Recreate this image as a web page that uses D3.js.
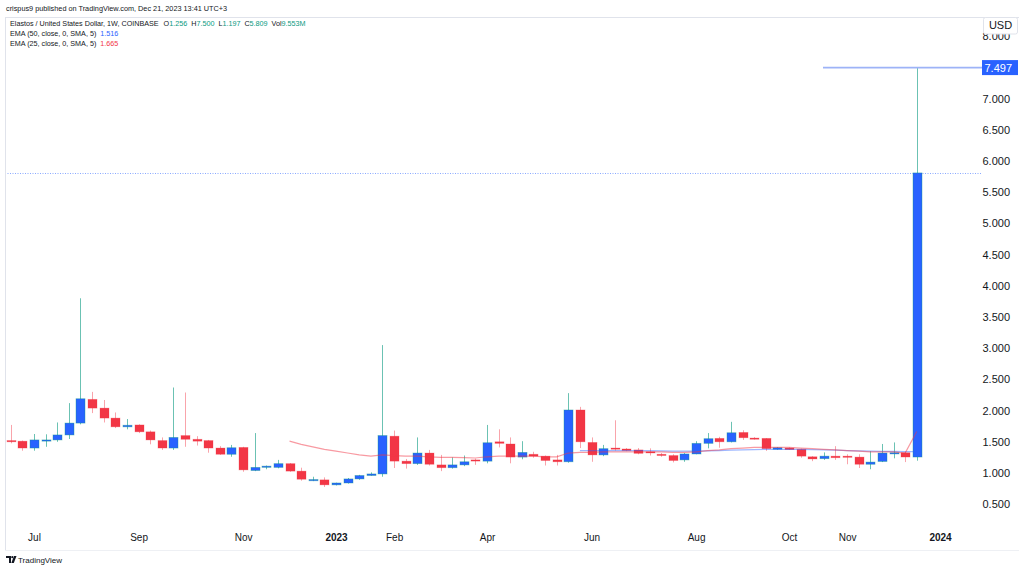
<!DOCTYPE html>
<html><head><meta charset="utf-8">
<script src="https://cdn.jsdelivr.net/npm/d3@7"></script>
<style>body{margin:0;background:#fff}svg{display:block;font-family:"Liberation Sans",Arial,sans-serif}</style>
</head><body><svg id="c" width="1024" height="570"></svg>
<script>
// ---------- DATA ----------
const firstWeek = "2022-06-20";
const opens  = [1.52,1.51,1.40,1.52,1.53,1.61,1.80,2.18,2.04,1.88,1.74,1.77,1.66,1.52,1.40,1.60,1.54,1.52,1.40,1.30,
                1.41,1.04,1.10,1.09,1.15,1.03,0.885,0.89,0.81,0.84,0.905,0.96,0.985,1.59,1.19,1.15,1.32,1.13,1.085,1.13,
                1.21,1.19,1.50,1.465,1.255,1.30,1.27,1.21,1.18,2.01,1.49,1.29,1.40,1.385,1.37,1.34,1.30,1.28,1.21,1.305,
                1.475,1.555,1.50,1.65,1.56,1.555,1.38,1.40,1.38,1.26,1.23,1.27,1.27,1.255,1.14,1.185,1.32,1.325,1.256];
const highs  = [1.77,1.52,1.625,1.62,1.81,2.12,3.80,2.30,2.17,1.97,1.865,1.78,1.68,1.57,2.37,2.29,1.59,1.53,1.43,1.45,
                1.42,1.64,1.12,1.21,1.16,1.085,0.94,0.93,0.845,0.92,0.97,1.01,3.05,1.68,1.225,1.57,1.37,1.29,1.25,1.28,
                1.23,1.77,1.70,1.57,1.51,1.34,1.28,1.29,2.28,2.06,1.57,1.45,1.845,1.40,1.40,1.395,1.32,1.30,1.32,1.51,
                1.64,1.58,1.82,1.685,1.575,1.56,1.415,1.41,1.39,1.27,1.33,1.43,1.30,1.30,1.35,1.465,1.49,1.34,7.500];
const lows   = [1.476,1.357,1.357,1.42,1.50,1.545,1.78,1.96,1.81,1.72,1.70,1.64,1.46,1.37,1.37,1.42,1.44,1.325,1.29,1.26,
                1.02,1.03,1.06,1.075,1.02,0.877,0.87,0.776,0.80,0.83,0.89,0.955,0.94,1.08,1.07,1.13,1.12,1.03,1.07,1.11,
                1.13,1.155,1.41,1.155,1.22,1.245,1.12,1.12,1.165,1.40,1.18,1.27,1.36,1.35,1.30,1.28,1.26,1.17,1.18,1.30,
                1.395,1.405,1.49,1.53,1.535,1.355,1.37,1.37,1.245,1.19,1.21,1.21,1.14,1.08,1.06,1.175,1.235,1.175,1.197];
const closes = [1.50,1.40,1.53,1.53,1.61,1.80,2.19,2.04,1.88,1.74,1.765,1.66,1.53,1.40,1.57,1.54,1.51,1.40,1.30,1.405,
                1.05,1.09,1.11,1.15,1.03,0.90,0.895,0.81,0.84,0.905,0.96,0.985,1.60,1.19,1.15,1.32,1.14,1.085,1.13,1.18,
                1.195,1.485,1.475,1.255,1.33,1.27,1.20,1.18,2.01,1.50,1.29,1.39,1.39,1.36,1.315,1.33,1.28,1.20,1.305,1.475,
                1.55,1.50,1.645,1.565,1.555,1.39,1.405,1.375,1.27,1.225,1.27,1.245,1.26,1.14,1.175,1.32,1.325,1.256,5.809];
// EMA 25, starts at bar 24
const ema25Start = 24;
const ema25 = [1.51,1.46,1.42,1.38,1.35,1.32,1.29,1.27,1.29,1.28,1.27,1.27,1.26,1.25,1.25,1.245,1.24,1.26,1.27,1.27,
               1.27,1.27,1.26,1.26,1.32,1.33,1.33,1.34,1.34,1.34,1.34,1.34,1.34,1.33,1.33,1.34,1.36,1.37,1.39,1.40,
               1.41,1.41,1.41,1.41,1.40,1.39,1.38,1.37,1.36,1.35,1.34,1.34,1.34,1.32,1.665];
// EMA 50, starts at bar 49
const ema50Start = 49;
const ema50 = [1.36,1.36,1.36,1.36,1.36,1.36,1.36,1.355,1.35,1.35,1.35,1.355,1.36,1.365,1.37,1.375,1.38,1.38,1.38,1.38,
               1.375,1.37,1.365,1.36,1.355,1.35,1.345,1.345,1.342,1.341,1.516];
const timeTickDates  = ["2022-07-04","2022-09-05","2022-11-07","2023-01-02","2023-02-06","2023-04-03","2023-06-05","2023-08-07","2023-10-02","2023-11-06","2024-01-01"];
const timeTickLabels = ["Jul","Sep","Nov","2023","Feb","Apr","Jun","Aug","Oct","Nov","2024"];
const priceTicks = [0.5,1,1.5,2,2.5,3,3.5,4,4.5,5,5.5,6,6.5,7,8];
const hLinePrice = 7.497;
const lastClose = 5.809;
const headerText = "crispus9 published on TradingView.com, Dec 21, 2023 13:41 UTC+3";
const symbolText = "Elastos / United States Dollar, 1W, COINBASE";
const ohlcLabels = [["O","1.256"],["H","7.500"],["L","1.197"],["C","5.809"],["Vol","9.553M"]];
const emaLegend = [["EMA (50, close, 0, SMA, 5)","1.516","#2962ff"],["EMA (25, close, 0, SMA, 5)","1.665","#f23645"]];

// ---------- CHART ----------
const svg = d3.select("#c");
const parse = d3.utcParse("%Y-%m-%d");
const dates = opens.map((_, i) => d3.utcDay.offset(parse(firstWeek), 7 * i));
const bars = opens.map((o, i) => ({d: dates[i], o, h: highs[i], l: lows[i], c: closes[i]}));

const plotL = 5, plotR = 981, plotT = 17, plotB = 528;
const x = d3.scaleUtc().domain([parse("2023-01-02"), parse("2024-01-01")]).range([336, 940]);
const y = d3.scaleLinear().domain([1, 7]).range([473, 98.6]);

const UP = "#2962ff", UPW = "rgba(8,153,129,0.6)", DN = "#f23645", DNW = "rgba(242,54,69,0.45)";

// panel border
svg.append("line").attr("x1", plotL).attr("x2", 1019).attr("y1", plotT + 0.5).attr("y2", plotT + 0.5).attr("stroke", "#e0e3eb");
svg.append("line").attr("x1", plotL + 0.5).attr("x2", plotL + 0.5).attr("y1", plotT).attr("y2", 550).attr("stroke", "#e0e3eb");
svg.append("line").attr("x1", plotL).attr("x2", 1019).attr("y1", 550.5).attr("y2", 550.5).attr("stroke", "#eef0f4");

svg.append("defs").append("clipPath").attr("id", "clip")
  .append("rect").attr("x", plotL + 1).attr("y", plotT + 1).attr("width", plotR - plotL - 1).attr("height", plotB - plotT - 1);
const g = svg.append("g").attr("clip-path", "url(#clip)");

// last close dotted line
g.append("line").attr("x1", plotL).attr("x2", plotR).attr("y1", Math.round(y(lastClose)) + 0.5).attr("y2", Math.round(y(lastClose)) + 0.5)
  .attr("stroke", "#2962ff").attr("stroke-opacity", 0.55).attr("stroke-dasharray", "1,1.5");

const bw = 9;
// wicks
g.selectAll(".wick").data(bars).join("line")
  .attr("x1", d => Math.round(x(d.d)) + 0.5).attr("x2", d => Math.round(x(d.d)) + 0.5)
  .attr("y1", d => y(d.h)).attr("y2", d => y(d.l))
  .attr("stroke", d => d.c >= d.o ? UPW : DNW).attr("stroke-width", 1);
// bodies
g.selectAll(".body").data(bars).join("rect")
  .attr("x", d => Math.round(x(d.d)) - 4).attr("width", bw)
  .attr("y", d => y(Math.max(d.o, d.c)))
  .attr("height", d => Math.max(1.2, Math.abs(y(d.o) - y(d.c))))
  .attr("fill", d => d.c >= d.o ? UP : DN)
  .attr("stroke", d => d.c >= d.o ? "rgba(8,153,129,0.45)" : "rgba(242,54,69,0.35)").attr("stroke-width", 0.8);

// EMA lines
const line = d3.line().x(d => x(d.d)).y(d => y(d.v));
const e25 = ema25.map((v, i) => ({d: dates[ema25Start + i], v}));
const e50 = ema50.map((v, i) => ({d: dates[ema50Start + i], v}));
g.append("path").attr("d", line(e50)).attr("fill", "none").attr("stroke", "#2962ff").attr("stroke-opacity", 0.45).attr("stroke-width", 1.3);
g.append("path").attr("d", line(e25)).attr("fill", "none").attr("stroke", "#f23645").attr("stroke-opacity", 0.5).attr("stroke-width", 1.2);

// horizontal drawing line at 7.497
svg.append("line").attr("x1", 823).attr("x2", 983).attr("y1", y(hLinePrice)).attr("y2", y(hLinePrice))
  .attr("stroke", "#9db3f7").attr("stroke-width", 1.6);

// price axis
const ya = svg.append("g").attr("transform", "translate(1010,0)")
  .call(d3.axisRight(y).tickValues(priceTicks).tickFormat(d3.format(".3f")).tickSize(0));
ya.select(".domain").remove();
ya.selectAll("text").attr("x", 0).attr("text-anchor", "end").attr("fill", "#131722")
  .style("font-size", "11px").style("font-family", '"Liberation Sans",Arial,sans-serif');

// USD box
svg.append("rect").attr("x", 983.5).attr("y", 17.5).attr("width", 34).attr("height", 16.5).attr("rx", 2)
  .attr("fill", "#fff").attr("stroke", "#e0e3eb");
svg.append("text").attr("x", 1000.5).attr("y", 29).attr("text-anchor", "middle").attr("fill", "#131722")
  .style("font-size", "11px").text("USD");

// 7.497 label box
svg.append("rect").attr("x", 982).attr("y", y(hLinePrice) - 7.5).attr("width", 36).attr("height", 15).attr("fill", "#2962ff");
svg.append("text").attr("x", 1012).attr("y", y(hLinePrice) + 4).attr("text-anchor", "end").attr("fill", "#fff")
  .style("font-size", "11px").text(d3.format(".3f")(hLinePrice));

// time axis
const xa = svg.append("g").attr("transform", "translate(0,531)")
  .call(d3.axisBottom(x).tickValues(timeTickDates.map(parse)).tickFormat((d, i) => timeTickLabels[i]).tickSize(0));
xa.select(".domain").remove();
xa.selectAll("text").attr("fill", "#131722").style("font-size", "10px")
  .style("font-family", '"Liberation Sans",Arial,sans-serif')
  .style("font-weight", (d, i) => /^\d{4}$/.test(timeTickLabels[i]) ? "bold" : "normal");

// header
svg.append("text").attr("x", 6).attr("y", 11).attr("fill", "#131722").style("font-size", "7.3px").text(headerText);
const t2 = svg.append("text").attr("x", 10).attr("y", 26).attr("fill", "#131722").style("font-size", "7.2px");
t2.append("tspan").text(symbolText);
ohlcLabels.forEach(([k, v], i) => {
  t2.append("tspan").attr("dx", i === 0 ? 5 : 4).text(k);
  t2.append("tspan").attr("fill", "#089981").text(v);
});
emaLegend.forEach(([k, v, c], i) => {
  const t = svg.append("text").attr("x", 10).attr("y", 36 + i * 10).attr("fill", "#131722").style("font-size", "7.2px");
  t.append("tspan").text(k);
  t.append("tspan").attr("dx", 4).attr("fill", c).text(v);
});

// TradingView logo
const lg = svg.append("g").attr("transform", "translate(6,556)").attr("fill", "#131722");
lg.append("path").attr("d", "M0,0H5V7H3V2H0Z");
lg.append("circle").attr("cx", 6.3).attr("cy", 1.2).attr("r", 1.1);
lg.append("path").attr("d", "M8,0H10.5L7.8,7H5.3Z");
svg.append("text").attr("x", 18).attr("y", 563).attr("fill", "#131722").style("font-size", "8px").text("TradingView");
</script></body></html>
